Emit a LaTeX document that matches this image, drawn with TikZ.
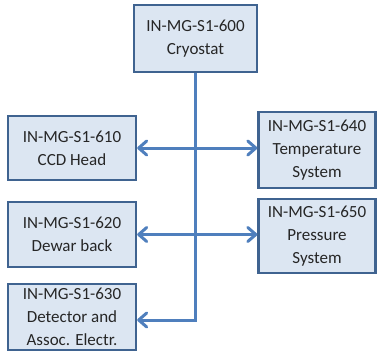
\documentclass[tikz,border=0pt]{standalone}
\usepackage{fontspec}
\setmainfont{Carlito}
\usepackage{tikz}
\usetikzlibrary{arrows.meta}
\definecolor{boxfill}{HTML}{DCE6F2}
\definecolor{boxline}{HTML}{3F6390}
\definecolor{linkline}{HTML}{4F7FBD}
\tikzset{
  unit/.style={draw=boxline, line width=2.4pt, fill=boxfill, align=center, inner sep=0pt,
    font=\fontsize{17}{23}\selectfont, text=black!85},
  tip/.tip={Straight Barb[length=8pt, width=14pt, line width=0pt 1, round]},
  link/.style={draw=linkline, line width=3pt, -tip},
  twoway/.style={link, tip-tip}
}

\begin{document}
\begin{tikzpicture}[x=1pt, y=1pt]
  \useasboundingbox (0,0) rectangle (377,-351);

  \node[unit, minimum width=123, minimum height=67] (cryo) at (195.5,-38.5) {IN-MG-S1-600\\Cryostat};
  \node[unit, minimum width=128, minimum height=64] (ccd) at (72,-148) {IN-MG-S1-610\\CCD Head};
  \node[unit, minimum width=128, minimum height=65] (dewar) at (72,-234.5) {IN-MG-S1-620\\Dewar back};
  \node[unit, minimum width=128, minimum height=66] (det) at (72,-317) {IN-MG-S1-630\\Detector and\\Assoc. Electr.};
  \node[unit, minimum width=117, minimum height=76] (temp) at (317,-150) {IN-MG-S1-640\\Temperature\\System};
  \node[unit, minimum width=117, minimum height=74] (press) at (317,-236) {IN-MG-S1-650\\Pressure\\System};

  \coordinate (bend) at (cryo.south |- 0,-320);
  \draw[link] (cryo.south) -- (bend) -- (bend -| det.east);
  \draw[twoway] (ccd.east) -- (ccd.east -| temp.west);
  \draw[twoway] (dewar.east) -- (dewar.east -| press.west);
\end{tikzpicture}
\end{document}
